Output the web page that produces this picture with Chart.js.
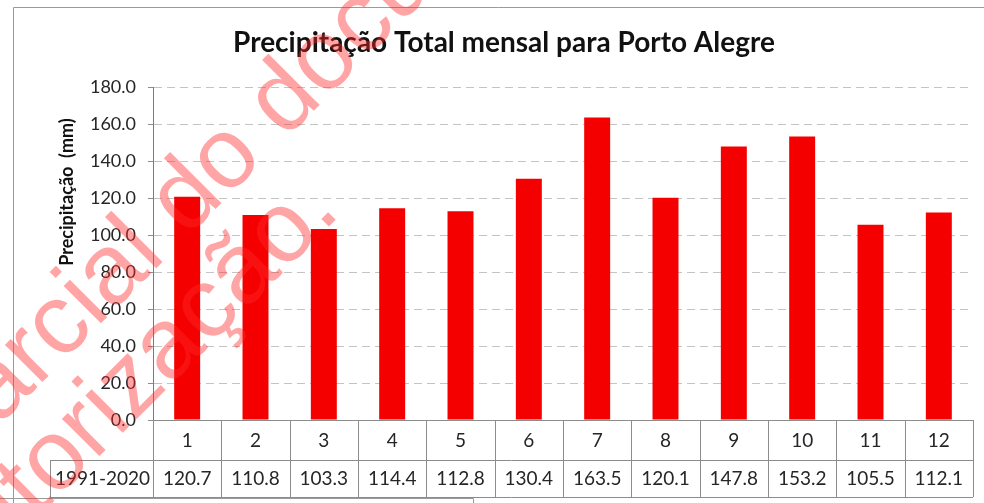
<!DOCTYPE html>
<html>
<head>
<meta charset="utf-8">
<script src="https://cdn.jsdelivr.net/npm/chart.js@4"></script>
<style>
  html, body { margin: 0; padding: 0; background: #fff; }
  #wrap { position: relative; width: 984px; height: 503px; }
</style>
</head>
<body>
<div id="wrap"><canvas id="chart" width="984" height="503"></canvas></div>
<script>
// monthly totals, normal 1991-2020
const months = ['1', '2', '3', '4', '5', '6', '7', '8', '9', '10', '11', '12']
const precip = [120.7, 110.8, 103.3, 114.4, 112.8, 130.4, 163.5, 120.1, 147.8, 153.2, 105.5, 112.1]
const periodLabel = '1991-2020'
const yMin = 0
const yMax = 180
const yStep = 20
const chartTitle = 'Precipitação Total mensal para Porto Alegre'
const yTitle = 'Precipitação  (mm)'
const watermark = ['parcial do documento', 'autorização.']

const textColor = '#262626'
const lineColor = '#8c8c8c'

// place a rotated watermark line so that one letter's centre sits on a given point
function drawMark(ctx, text, idx, px, py) {
  const ang = -Math.PI / 4
  const ux = Math.cos(ang), uy = Math.sin(ang)
  const nx = uy, ny = -ux  // "up" for the rotated glyphs
  const pre = ctx.measureText(text.slice(0, idx)).width
  const m = ctx.measureText(text[idx])
  const along = pre + m.width / 2
  const up = (m.actualBoundingBoxAscent - m.actualBoundingBoxDescent) / 2
  const sx = px - along * ux + up * -nx
  const sy = py - along * uy + up * -ny
  ctx.save()
  ctx.translate(sx, sy)
  ctx.rotate(ang)
  ctx.fillText(text, 0, 0)
  ctx.restore()
}

// draws frame, title, axis title, data table and watermark
const extras = {
  id: 'extras',
  afterDraw(chart) {
    const ctx = chart.ctx
    const area = chart.chartArea
    const x = chart.scales.x
    ctx.save()

    // outer frame (cropped at right/bottom)
    ctx.strokeStyle = '#9a9a9a'
    ctx.lineWidth = 1
    ctx.beginPath()
    ctx.moveTo(13.5, 503)
    ctx.lineTo(13.5, 7.5)
    ctx.lineTo(984, 7.5)
    ctx.moveTo(0, 498.5)
    ctx.lineTo(473.5, 498.5)
    ctx.lineTo(473.5, 503)
    ctx.stroke()

    // title
    ctx.fillStyle = '#111'
    ctx.font = 'bold 28px Lato'
    ctx.textAlign = 'center'
    ctx.textBaseline = 'alphabetic'
    ctx.fillText(chartTitle, 504, 52)

    // y axis title
    ctx.save()
    ctx.translate(67, 192)
    ctx.rotate(-Math.PI / 2)
    ctx.font = 'bold 18px Lato'
    ctx.textBaseline = 'middle'
    ctx.fillText(yTitle, 0, 0)
    ctx.restore()

    // data table
    const colW = x.getPixelForValue(1) - x.getPixelForValue(0)
    const top = area.bottom
    const mid = top + 40
    const bot = top + 77
    const headLeft = 50
    ctx.strokeStyle = lineColor
    ctx.beginPath()
    ctx.moveTo(area.left, top + 0.5)
    ctx.lineTo(area.right, top + 0.5)
    ctx.moveTo(headLeft, mid + 0.5)
    ctx.lineTo(area.right, mid + 0.5)
    ctx.moveTo(headLeft, bot + 0.5)
    ctx.lineTo(area.right, bot + 0.5)
    ctx.moveTo(headLeft + 0.5, mid)
    ctx.lineTo(headLeft + 0.5, bot)
    for (let i = 0; i <= months.length; i++) {
      const bx = Math.round(x.getPixelForValue(i) - colW / 2) + 0.5
      ctx.moveTo(bx, top)
      ctx.lineTo(bx, bot)
    }
    ctx.stroke()

    ctx.fillStyle = textColor
    ctx.font = '19px Lato'
    ctx.textAlign = 'center'
    ctx.textBaseline = 'middle'
    months.forEach((m, i) => {
      const cx = x.getPixelForValue(i)
      ctx.fillText(m, cx, top + 21)
      ctx.fillText(precip[i].toFixed(1), cx, mid + 19)
    })
    ctx.fillText(periodLabel, (headLeft + area.left) / 2 + 1, mid + 19)

    // watermark
    ctx.fillStyle = 'rgba(255, 40, 40, 0.42)'
    ctx.font = '100px "Liberation Sans", Arial, sans-serif'
    ctx.textAlign = 'left'
    ctx.textBaseline = 'alphabetic'
    drawMark(ctx, watermark[0], 9, 227, 160)
    drawMark(ctx, watermark[1], 7, 170, 348)

    ctx.restore()
  }
}

new Chart(document.getElementById('chart'), {
  type: 'bar',
  data: {
    labels: months,
    datasets: [{
      label: periodLabel,
      data: precip,
      backgroundColor: '#f50000',
      borderWidth: 0,
      barPercentage: 0.38,
      categoryPercentage: 1
    }]
  },
  options: {
    responsive: false,
    animation: false,
    devicePixelRatio: 1,
    layout: { padding: { top: 87, left: 13, right: 11, bottom: 83 } },
    plugins: {
      legend: { display: false },
      title: { display: false },
      tooltip: { enabled: false }
    },
    scales: {
      x: { display: false },
      y: {
        min: yMin,
        max: yMax,
        afterFit(scale) { scale.width = 140 },
        ticks: {
          stepSize: yStep,
          padding: 12,
          color: textColor,
          font: { family: 'Lato', size: 18 },
          callback: (v) => v.toFixed(1)
        },
        grid: {
          color: '#c4c4c4',
          tickLength: 5,
          tickColor: lineColor,
          tickBorderDash: []
        },
        border: { display: true, color: '#7a7a7a', dash: [8, 5] }
      }
    }
  },
  plugins: [extras]
})
</script>
</body>
</html>
